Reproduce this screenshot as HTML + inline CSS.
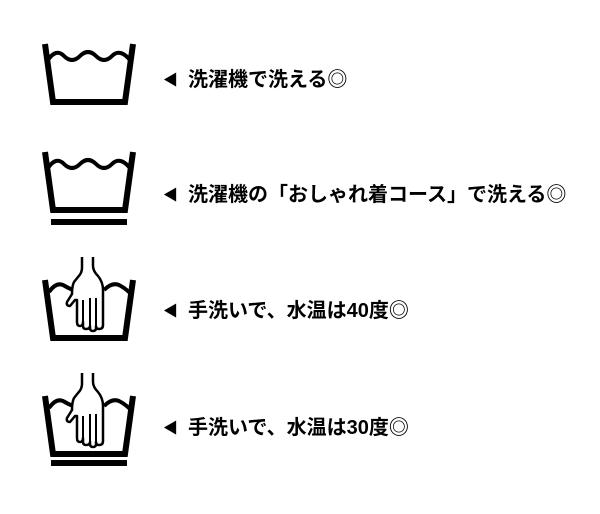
<!DOCTYPE html>
<html><head><meta charset="utf-8"><style>
body{margin:0;width:600px;height:514px;background:#fff;position:relative;overflow:hidden}
.t{position:absolute;left:163px;font-family:"Liberation Sans","Noto Sans CJK JP",sans-serif;font-weight:bold;font-size:20px;line-height:24px;color:#000;white-space:nowrap}
.t span{font-size:15px;display:inline-block;margin-right:10px;vertical-align:1px}
svg{position:absolute;left:0;top:0}
</style></head><body>
<svg width="600" height="514" viewBox="0 0 600 514">
<defs>
<g id="tub" fill="none" stroke="#000">
<path d="M45,44 L53,102 L125,102 L133,44" stroke-width="6" stroke-linejoin="miter"/>
</g>
<path id="wave" d="M48,60 Q56,48 64,56 Q72,64 80,56 Q88,48 96,56 Q104,64 112,56 Q120,48 130,60" fill="none" stroke="#000" stroke-width="4"/>
<g id="hand">
<path d="M49,292 Q56,282 63,285 Q68,288 73,290" fill="none" stroke="#000" stroke-width="4"/>
<path d="M104,290 Q112,282 119,285 Q125,288 130,293" fill="none" stroke="#000" stroke-width="4"/>
<path d="M82,257 L82,268 Q82,273 78,277 L74,282 Q72,286 72,294 L67,302 Q66,306 70,306 L75,300 L77,300 L77,322 Q77,326 80,326 Q83,326 83,322 L83,326 Q83,329 86,329 Q90,329 90,326 L90,328 Q90,331 93,331 Q96,331 96,328 L96,326 Q96,329 99,329 Q103,329 103,325 L103,290 Q103,282 98,276 Q93,271 93,266 L93,257" fill="#fff" stroke="#000" stroke-width="2.5" stroke-linejoin="round"/>
<path d="M83,300 L83,322 M90,298 L90,326 M96,298 L96,326" stroke="#000" stroke-width="2"/>
</g>
</defs>
<use href="#tub"/><use href="#wave"/>
<g transform="translate(0,108)"><use href="#tub"/><use href="#wave"/></g>
<rect x="51" y="219" width="76" height="6" fill="#000"/>
<g transform="translate(0,236)"><use href="#tub"/></g>
<use href="#hand"/>
<g transform="translate(0,352)"><use href="#tub"/></g>
<g transform="translate(0,116)"><use href="#hand"/></g>
<rect x="51" y="460" width="76" height="6" fill="#000"/>
</svg>
<div class="t" style="top:68px"><span>◀</span>洗濯機で洗える◎</div>
<div class="t" style="top:183px"><span>◀</span>洗濯機の「おしゃれ着コース」で洗える◎</div>
<div class="t" style="top:299px"><span>◀</span>手洗いで、水温は40度◎</div>
<div class="t" style="top:416px"><span>◀</span>手洗いで、水温は30度◎</div>
</body></html>
